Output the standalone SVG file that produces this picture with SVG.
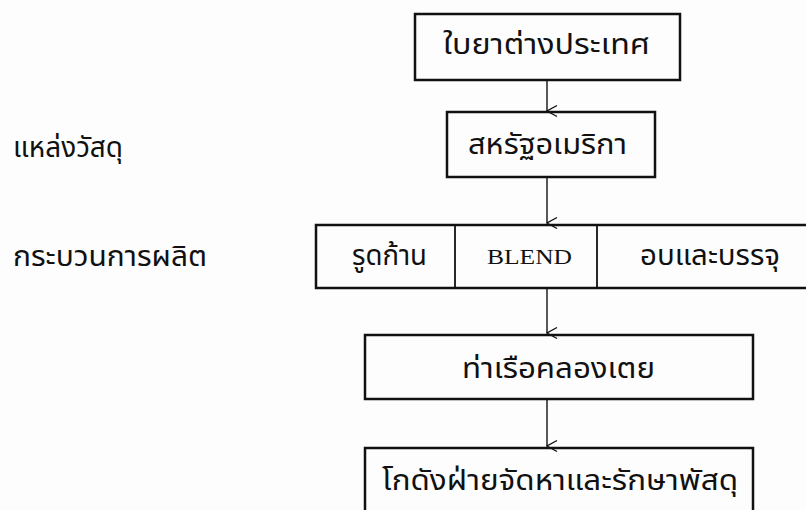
<svg xmlns="http://www.w3.org/2000/svg" width="806" height="510" viewBox="0 0 806 510">
<style>
.box{fill:none;stroke:#111;stroke-width:2.5}
.div{stroke:#111;stroke-width:1.8}
.th{font-family:"Noto Sans Thai","Noto Sans",sans-serif;font-size:29px;fill:#111}
.lbl{font-family:"Noto Sans Thai","Noto Sans",sans-serif;font-size:28px;fill:#111}
.en{font-family:"Liberation Serif",serif;font-size:21px;fill:#111}
.conn{stroke:#111;stroke-width:1.4;fill:none}
</style>
<defs>
<marker id="arr" viewBox="0 0 14 14" refX="7" refY="13" markerWidth="14" markerHeight="14" markerUnits="userSpaceOnUse" orient="auto-start-reverse">
<path d="M1.5,3 L7,13 L12.5,3" fill="none" stroke="#111" stroke-width="1.4"/>
</marker>
</defs>
<rect width="806" height="510" fill="#fdfdfd"/>
<g id="labels">
<text class="lbl" x="13" y="157" textLength="110" lengthAdjust="spacingAndGlyphs">แหล่งวัสดุ</text>
<text class="lbl" x="13" y="266" textLength="194" lengthAdjust="spacingAndGlyphs">กระบวนการผลิต</text>
</g>
<g id="connectors">
<line class="conn" x1="547" y1="80" x2="547" y2="111" marker-end="url(#arr)"/>
<line class="conn" x1="547" y1="177" x2="547" y2="223" marker-end="url(#arr)"/>
<line class="conn" x1="547" y1="288" x2="547" y2="333" marker-end="url(#arr)"/>
<line class="conn" x1="547" y1="399" x2="547" y2="446" marker-end="url(#arr)"/>
</g>
<g id="n1">
<rect class="box" x="415" y="14" width="265" height="66"/>
<text class="th" x="443" y="54" textLength="207" lengthAdjust="spacingAndGlyphs">ใบยาต่างประเทศ</text>
</g>
<g id="n2">
<rect class="box" x="447" y="112" width="208" height="65"/>
<text class="th" x="468" y="154" textLength="159" lengthAdjust="spacingAndGlyphs">สหรัฐอเมริกา</text>
</g>
<g id="n3">
<rect class="box" x="316" y="225" width="500" height="63"/>
<line class="div" x1="455" y1="225" x2="455" y2="288"/>
<line class="div" x1="597" y1="225" x2="597" y2="288"/>
<text class="th" x="352" y="265" textLength="75" lengthAdjust="spacingAndGlyphs">รูดก้าน</text>
<text class="en" x="487" y="264" textLength="85" lengthAdjust="spacingAndGlyphs">BLEND</text>
<text class="th" x="640" y="265" textLength="140" lengthAdjust="spacingAndGlyphs">อบและบรรจุ</text>
</g>
<g id="n4">
<rect class="box" x="365" y="335" width="388" height="64"/>
<text class="th" x="462" y="378" textLength="193" lengthAdjust="spacingAndGlyphs">ท่าเรือคลองเตย</text>
</g>
<g id="n5">
<rect class="box" x="365" y="448" width="388" height="70"/>
<text class="th" x="382" y="490" textLength="356" lengthAdjust="spacingAndGlyphs">โกดังฝ่ายจัดหาและรักษาพัสดุ</text>
</g>
</svg>
